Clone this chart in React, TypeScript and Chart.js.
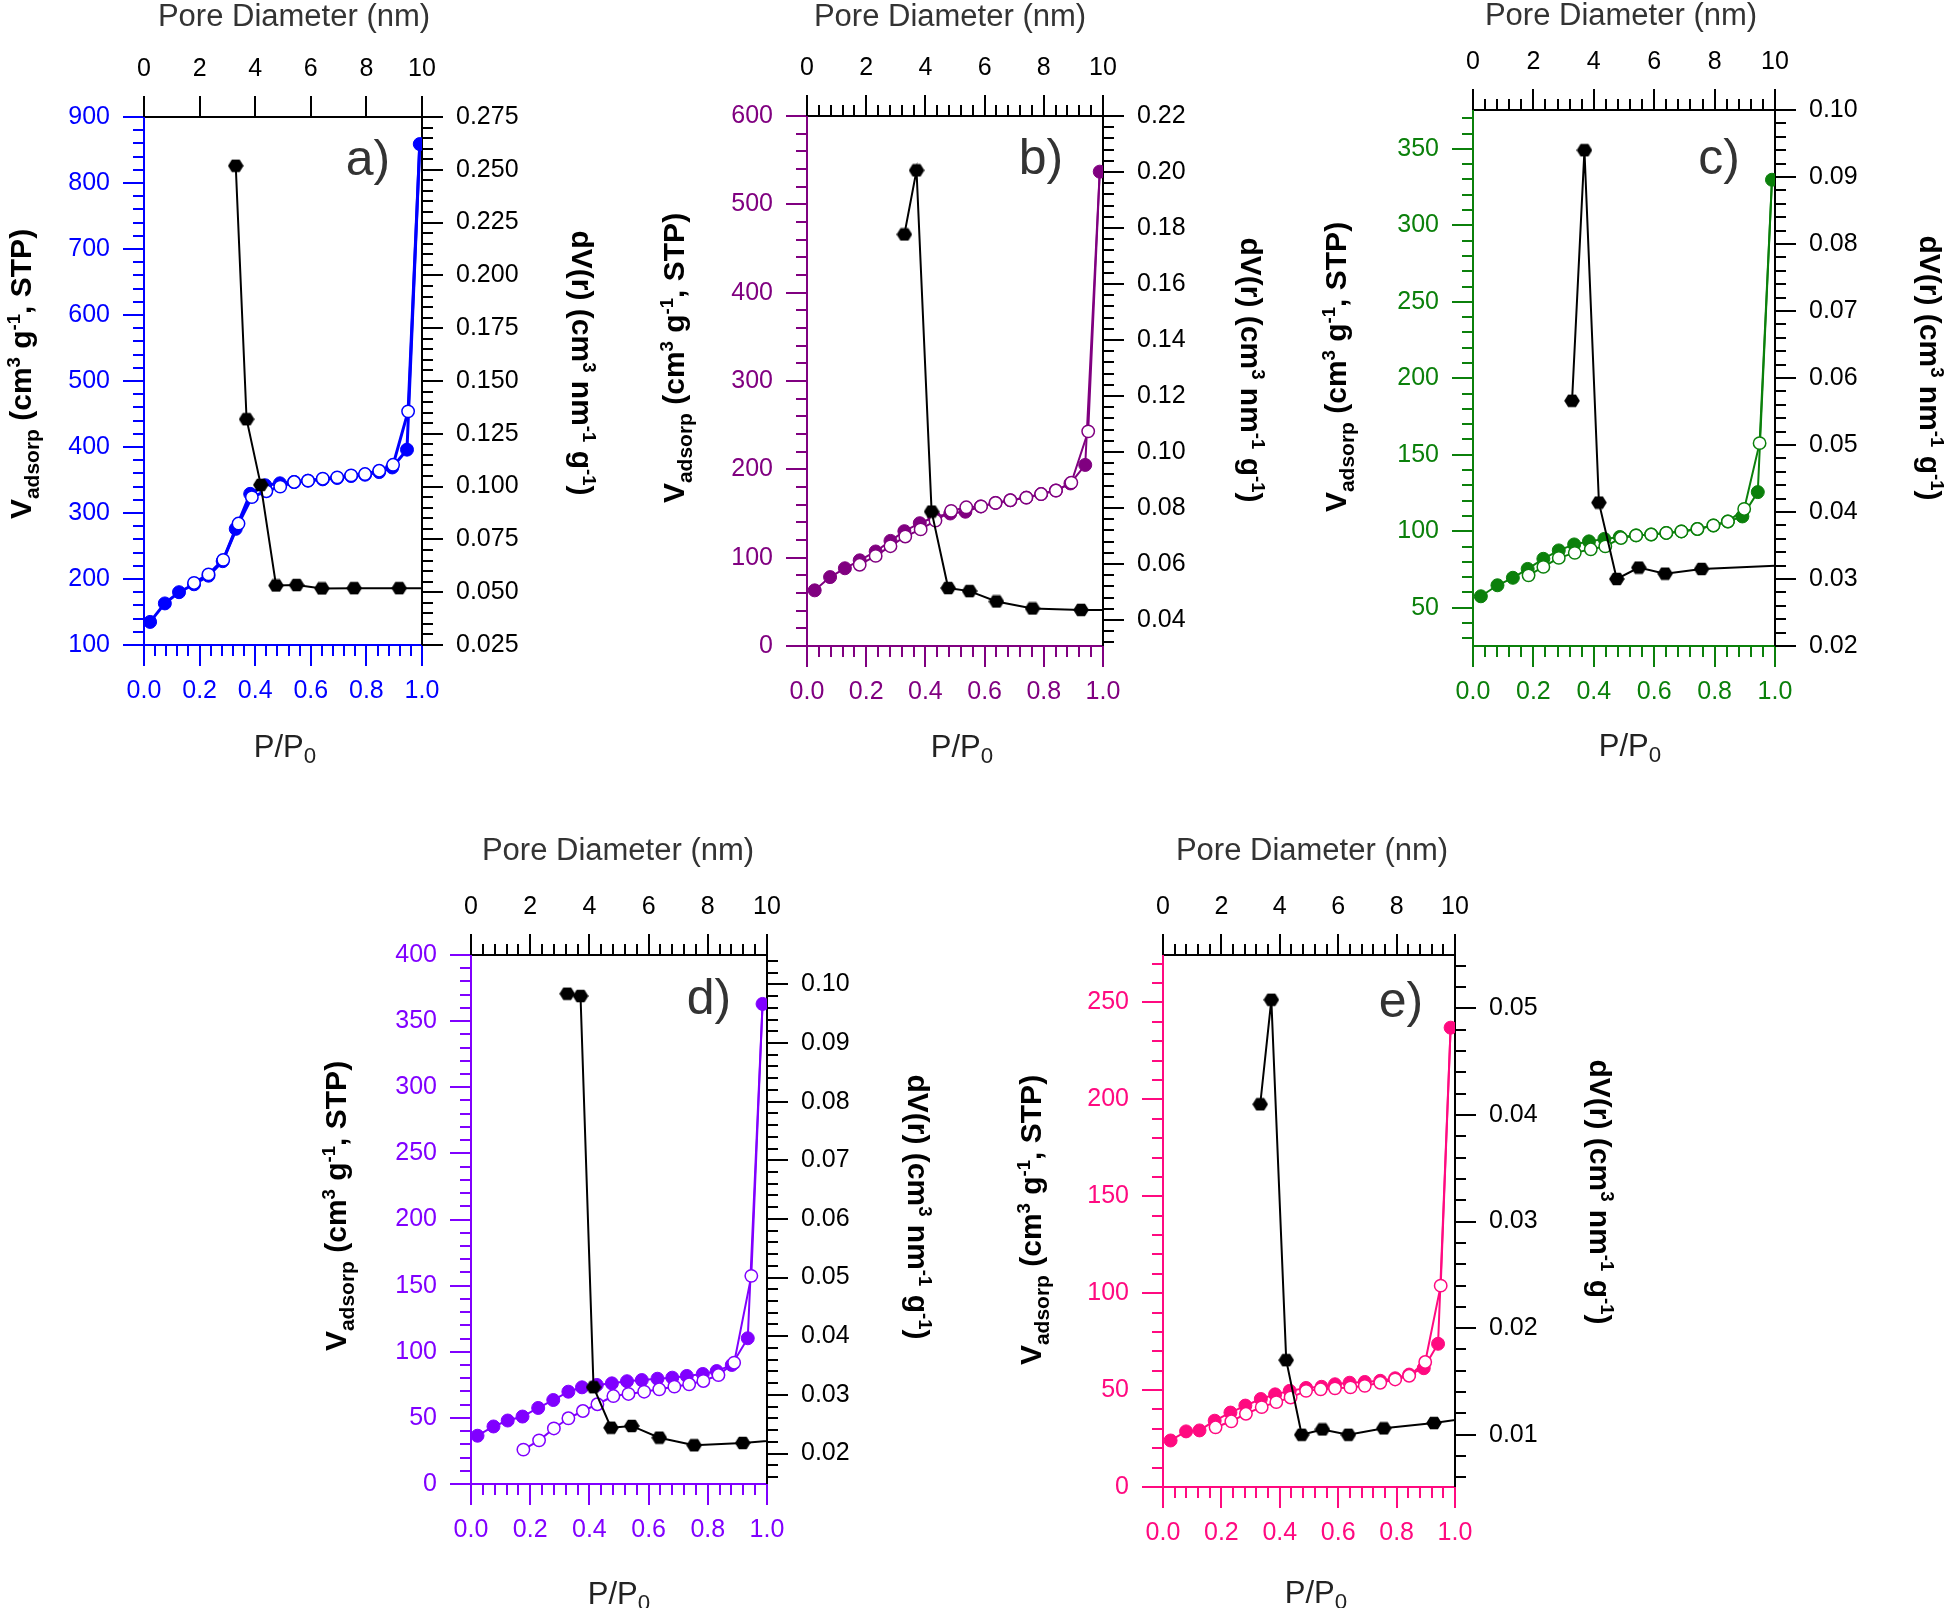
import React, { useEffect, useRef } from "react";
import { Chart, registerables } from "chart.js";

Chart.register(...registerables);

const FONT = '"Liberation Sans", Arial, Helvetica, sans-serif';
Chart.defaults.font.family = FONT;

// ---------- shared tick labels ----------
const P_TICKS = [0, 0.2, 0.4, 0.6, 0.8, 1.0];
const D_TICKS = [0, 2, 4, 6, 8, 10];

// ---------- a) ----------
const A_ADS_P = [0.022, 0.075, 0.126, 0.18, 0.232, 0.283, 0.33, 0.382, 0.436, 0.489, 0.54, 0.59, 0.643, 0.695, 0.745, 0.795, 0.846, 0.893, 0.946, 0.992];
const A_ADS_V = [135, 163, 180, 192, 205, 227, 276, 329, 342, 345, 347, 349, 351, 353, 356, 358, 362, 369, 396, 859];
const A_DES_P = [0.18, 0.232, 0.285, 0.34, 0.388, 0.44, 0.49, 0.54, 0.59, 0.643, 0.695, 0.745, 0.795, 0.846, 0.896, 0.95];
const A_DES_V = [194, 207, 229, 284, 324, 333, 340, 347, 349, 352, 354, 357, 359, 364, 373, 454];
const A_PSD_D = [3.3, 3.69, 4.2, 4.75, 5.49, 6.4, 7.56, 9.18, 11];
const A_PSD_DV = [0.2519, 0.1319, 0.1008, 0.0532, 0.0534, 0.0518, 0.0519, 0.0519, 0.0519];
const A_LEFT_TICKS = [100, 200, 300, 400, 500, 600, 700, 800, 900];
const A_RIGHT_TICKS = [0.025, 0.05, 0.075, 0.1, 0.125, 0.15, 0.175, 0.2, 0.225, 0.25, 0.275];

// ---------- b) ----------
const B_ADS_P = [0.026, 0.078, 0.128, 0.178, 0.232, 0.282, 0.329, 0.381, 0.43, 0.484, 0.535, 0.587, 0.637, 0.687, 0.741, 0.791, 0.841, 0.89, 0.94, 0.989];
const B_ADS_V = [63, 78, 88, 97, 107, 119, 130, 139, 146, 150, 152, 158, 162, 165, 168, 172, 176, 184, 205, 537];
const B_DES_P = [0.178, 0.232, 0.282, 0.332, 0.384, 0.434, 0.487, 0.538, 0.588, 0.637, 0.687, 0.741, 0.791, 0.841, 0.893, 0.95];
const B_DES_V = [92, 102, 113, 124, 132, 142, 153, 157, 158, 162, 165, 168, 172, 176, 185, 243];
const B_PSD_D = [3.29, 3.7, 4.21, 4.77, 5.49, 6.4, 7.62, 9.26, 11];
const B_PSD_DV = [0.1777, 0.2006, 0.0787, 0.0514, 0.0503, 0.0466, 0.0441, 0.0436, 0.0435];
const B_LEFT_TICKS = [0, 100, 200, 300, 400, 500, 600];
const B_RIGHT_TICKS = [0.04, 0.06, 0.08, 0.1, 0.12, 0.14, 0.16, 0.18, 0.2, 0.22];

// ---------- c) ----------
const C_ADS_P = [0.026, 0.081, 0.132, 0.181, 0.233, 0.284, 0.335, 0.384, 0.435, 0.486, 0.54, 0.59, 0.64, 0.69, 0.743, 0.796, 0.844, 0.892, 0.943, 0.99];
const C_ADS_V = [57.5, 64.7, 69.6, 75.4, 82, 87.5, 91.4, 93.4, 95, 96.3, 97.3, 97.9, 98.9, 99.9, 101.5, 103.8, 106.4, 109.7, 125.6, 329.8];
const C_DES_P = [0.184, 0.233, 0.284, 0.337, 0.39, 0.438, 0.49, 0.54, 0.59, 0.64, 0.69, 0.743, 0.796, 0.844, 0.898, 0.949];
const C_DES_V = [71.2, 76.7, 82.6, 85.9, 88.2, 90.1, 95.6, 97.3, 97.9, 98.9, 99.9, 101.5, 103.8, 106.4, 114.6, 157.6];
const C_PSD_D = [3.28, 3.69, 4.17, 4.76, 5.49, 6.36, 7.57, 11];
const C_PSD_DV = [0.0566, 0.094, 0.0414, 0.03, 0.0317, 0.0308, 0.0315, 0.0322];
const C_LEFT_TICKS = [50, 100, 150, 200, 250, 300, 350];
const C_RIGHT_TICKS = [0.02, 0.03, 0.04, 0.05, 0.06, 0.07, 0.08, 0.09, 0.1];

// ---------- d) ----------
const D_ADS_P = [0.022, 0.076, 0.124, 0.174, 0.227, 0.278, 0.329, 0.375, 0.425, 0.476, 0.527, 0.577, 0.63, 0.68, 0.729, 0.783, 0.83, 0.881, 0.935, 0.985];
const D_ADS_V = [36.5, 43.5, 48, 51, 57.5, 63.5, 69.8, 73.1, 74.9, 76.1, 77.7, 78.6, 79.6, 80.4, 81.7, 83.2, 85.4, 90, 110.2, 363];
const D_DES_P = [0.177, 0.23, 0.28, 0.329, 0.378, 0.427, 0.481, 0.532, 0.585, 0.636, 0.687, 0.737, 0.785, 0.836, 0.889, 0.947];
const D_DES_V = [26, 33, 42, 49.7, 55.2, 60.3, 66.5, 68.1, 69.8, 71.6, 73.6, 75.4, 77.9, 82.4, 91.7, 157.4];
const D_PSD_D = [3.25, 3.7, 4.14, 4.73, 5.43, 6.36, 7.54, 9.18, 11];
const D_PSD_DV = [0.0984, 0.098, 0.0313, 0.0244, 0.0247, 0.0227, 0.0214, 0.0218, 0.0225];
const D_LEFT_TICKS = [0, 50, 100, 150, 200, 250, 300, 350, 400];
const D_RIGHT_TICKS = [0.02, 0.03, 0.04, 0.05, 0.06, 0.07, 0.08, 0.09, 0.1];

// ---------- e) ----------
const E_ADS_P = [0.026, 0.079, 0.125, 0.177, 0.231, 0.282, 0.335, 0.384, 0.434, 0.49, 0.543, 0.589, 0.639, 0.691, 0.744, 0.795, 0.843, 0.893, 0.942, 0.985];
const E_ADS_V = [24, 28.7, 29.2, 34.2, 38.4, 42, 45.4, 47.8, 49.6, 51.1, 51.7, 53, 53.8, 54.2, 54.8, 56.1, 58, 61.3, 73.9, 237];
const E_DES_P = [0.18, 0.234, 0.284, 0.338, 0.388, 0.437, 0.49, 0.54, 0.589, 0.642, 0.691, 0.744, 0.795, 0.843, 0.898, 0.951];
const E_DES_V = [30.8, 33.9, 37.8, 41.2, 43.8, 46.2, 49.6, 50.4, 50.9, 51.4, 52.2, 53.8, 55.5, 57.4, 64.5, 103.9];
const E_PSD_D = [3.33, 3.71, 4.22, 4.75, 5.46, 6.35, 7.56, 9.28, 11];
const E_PSD_DV = [0.041, 0.0508, 0.017, 0.01, 0.0105, 0.01, 0.0106, 0.0111, 0.0118];
const E_LEFT_TICKS = [0, 50, 100, 150, 200, 250];
const E_RIGHT_TICKS = [0.01, 0.02, 0.03, 0.04, 0.05];

type XY = [number, number];
type PanelCfg = {
  letter: string;
  color: string;
  canvas: [number, number, number, number];
  box: [number, number, number, number];
  adsP: number[]; adsV: number[]; desP: number[]; desV: number[]; psdD: number[]; psdV: number[];
  yMin: number; yMax: number; y2Min: number; y2Max: number;
  leftTicks: number[]; rightTicks: number[]; rightDec: number;
  leftMinor: number; rightMinor: number; bottomMinor: number; topMinor: number;
  lineW: number;
  leftTitle: XY; rightTitle: XY; topTitle: XY; bottomTitle: XY; letterPos: XY;
};

const PANELS: PanelCfg[] = [
  {
    letter: "a)", color: "#0000ff", canvas: [0, 0, 650, 800], box: [144, 117, 422, 645],
    adsP: A_ADS_P, adsV: A_ADS_V, desP: A_DES_P, desV: A_DES_V, psdD: A_PSD_D, psdV: A_PSD_DV,
    yMin: 100, yMax: 900, y2Min: 0.025, y2Max: 0.275,
    leftTicks: A_LEFT_TICKS, rightTicks: A_RIGHT_TICKS, rightDec: 3,
    leftMinor: 20, rightMinor: 0.005, bottomMinor: 0.04, topMinor: 0, lineW: 3,
    leftTitle: [31, 374], rightTitle: [572, 363], topTitle: [294, 26], bottomTitle: [285, 757], letterPos: [368, 161],
  },
  {
    letter: "b)", color: "#800080", canvas: [650, 0, 1300, 800], box: [807, 116, 1103, 646],
    adsP: B_ADS_P, adsV: B_ADS_V, desP: B_DES_P, desV: B_DES_V, psdD: B_PSD_D, psdV: B_PSD_DV,
    yMin: 0, yMax: 600, y2Min: 0.0307, y2Max: 0.22,
    leftTicks: B_LEFT_TICKS, rightTicks: B_RIGHT_TICKS, rightDec: 2,
    leftMinor: 20, rightMinor: 0.004, bottomMinor: 0.04, topMinor: 0.4, lineW: 2,
    leftTitle: [684, 358], rightTitle: [1241, 370], topTitle: [950, 26], bottomTitle: [962, 757], letterPos: [1041, 160],
  },
  {
    letter: "c)", color: "#0b800b", canvas: [1300, 0, 1946, 800], box: [1473, 110, 1775, 646],
    adsP: C_ADS_P, adsV: C_ADS_V, desP: C_DES_P, desV: C_DES_V, psdD: C_PSD_D, psdV: C_PSD_DV,
    yMin: 25, yMax: 375.4, y2Min: 0.02, y2Max: 0.1,
    leftTicks: C_LEFT_TICKS, rightTicks: C_RIGHT_TICKS, rightDec: 2,
    leftMinor: 10, rightMinor: 0.002, bottomMinor: 0.04, topMinor: 0.4, lineW: 2,
    leftTitle: [1346, 367], rightTitle: [1920, 368], topTitle: [1621, 25], bottomTitle: [1630, 756], letterPos: [1719, 160],
  },
  {
    letter: "d)", color: "#8000ff", canvas: [280, 800, 980, 1608], box: [471, 955, 767, 1484],
    adsP: D_ADS_P, adsV: D_ADS_V, desP: D_DES_P, desV: D_DES_V, psdD: D_PSD_D, psdV: D_PSD_DV,
    yMin: 0, yMax: 400, y2Min: 0.0148, y2Max: 0.105,
    leftTicks: D_LEFT_TICKS, rightTicks: D_RIGHT_TICKS, rightDec: 2,
    leftMinor: 10, rightMinor: 0.002, bottomMinor: 0.04, topMinor: 0.4, lineW: 2,
    leftTitle: [346, 1206], rightTitle: [908, 1207], topTitle: [618, 860], bottomTitle: [619, 1604], letterPos: [709, 1000],
  },
  {
    letter: "e)", color: "#ff0a80", canvas: [980, 800, 1680, 1608], box: [1163, 955, 1455, 1487],
    adsP: E_ADS_P, adsV: E_ADS_V, desP: E_DES_P, desV: E_DES_V, psdD: E_PSD_D, psdV: E_PSD_DV,
    yMin: 0, yMax: 274.5, y2Min: 0.0051, y2Max: 0.055,
    leftTicks: E_LEFT_TICKS, rightTicks: E_RIGHT_TICKS, rightDec: 2,
    leftMinor: 10, rightMinor: 0.002, bottomMinor: 0.04, topMinor: 0.4, lineW: 2,
    leftTitle: [1041, 1220], rightTitle: [1590, 1192], topTitle: [1312, 860], bottomTitle: [1316, 1603], letterPos: [1401, 1003],
  },
];

function minorTicks(min: number, max: number, step: number, majors: number[]): number[] {
  const out: number[] = [];
  if (!step) return out;
  const start = Math.ceil(min / step - 1e-6);
  for (let k = start; k * step <= max + step * 1e-6; k++) {
    const v = k * step;
    if (!majors.some((m) => Math.abs(m - v) < step * 1e-3)) out.push(v);
  }
  return out;
}

function makeHex(): HTMLCanvasElement {
  const c = document.createElement("canvas");
  c.width = 16;
  c.height = 14;
  const g = c.getContext("2d")!;
  const r = 7.8;
  g.beginPath();
  for (let i = 0; i < 6; i++) {
    const a = (Math.PI / 3) * i;
    const px = 8 + r * Math.cos(a);
    const py = 7 + r * Math.sin(a) * 0.93;
    if (i === 0) g.moveTo(px, py);
    else g.lineTo(px, py);
  }
  g.closePath();
  g.fillStyle = "#000";
  g.fill();
  return c;
}

type Seg = { t: string; k?: "sub" | "sup" };

function drawRich(ctx: CanvasRenderingContext2D, segs: Seg[], x: number, y: number, angle: number, size: number, bold: boolean, color: string, subScale: number, supScale: number, subShift: number) {
  const font = (s: number) => `${bold ? "bold " : ""}${s}px ${FONT}`;
  const sz = (s: Seg) => (s.k === "sub" ? size * subScale : s.k === "sup" ? size * supScale : size);
  const widths: number[] = [];
  let total = 0;
  for (const s of segs) {
    ctx.font = font(sz(s));
    const w = ctx.measureText(s.t).width;
    widths.push(w);
    total += w;
  }
  ctx.save();
  ctx.translate(x, y);
  ctx.rotate(angle);
  ctx.fillStyle = color;
  ctx.textAlign = "left";
  ctx.textBaseline = "alphabetic";
  let cx = -total / 2;
  segs.forEach((s, i) => {
    ctx.font = font(sz(s));
    const dy = s.k === "sub" ? size * subShift : s.k === "sup" ? -size * 0.36 : 0;
    ctx.fillText(s.t, cx, dy);
    cx += widths[i];
  });
  ctx.restore();
}

const LEFT_TITLE: Seg[] = [{ t: "V" }, { t: "adsorp", k: "sub" }, { t: " (cm" }, { t: "3", k: "sup" }, { t: " g" }, { t: "-1", k: "sup" }, { t: ", STP)" }];
const RIGHT_TITLE: Seg[] = [{ t: "dV(r) (cm" }, { t: "3", k: "sup" }, { t: " nm" }, { t: "-1", k: "sup" }, { t: " g" }, { t: "-1", k: "sup" }, { t: ")" }];
const BOTTOM_TITLE: Seg[] = [{ t: "P/P" }, { t: "0", k: "sub" }];
const TOP_TITLE = "Pore Diameter (nm)";

function tickLines(ctx: CanvasRenderingContext2D, scale: any, values: number[], len: number, side: string, area: any, color: string) {
  ctx.strokeStyle = color;
  ctx.lineWidth = 2;
  ctx.beginPath();
  for (const v of values) {
    const p = Math.round(scale.getPixelForValue(v));
    if (side === "left") { ctx.moveTo(area.left, p); ctx.lineTo(area.left - len, p); }
    else if (side === "right") { ctx.moveTo(area.right, p); ctx.lineTo(area.right + len, p); }
    else if (side === "bottom") { ctx.moveTo(p, area.bottom); ctx.lineTo(p, area.bottom + len); }
    else { ctx.moveTo(p, area.top); ctx.lineTo(p, area.top - len); }
  }
  ctx.stroke();
}

function Panel({ p }: { p: PanelCfg }) {
  const ref = useRef<HTMLCanvasElement>(null);
  const [cx0, cy0, cx1, cy1] = p.canvas;
  const [L, T, R, B] = p.box;
  useEffect(() => {
    const canvas = ref.current!;
    const hex = makeHex();
    const ads = p.adsP.map((x, i) => ({ x, y: p.adsV[i] }));
    const des = [...p.desP.map((x, i) => ({ x, y: p.desV[i] })), ads[ads.length - 1]];
    const desRadius = des.map((_, i) => (i === des.length - 1 ? 0 : 6.2));
    const psd = p.psdD.map((x, i) => ({ x, y: p.psdV[i] }));
    const tickFont = { family: FONT, size: 25 };

    const deco = {
      id: "deco",
      afterDraw(chart: any) {
        const ctx: CanvasRenderingContext2D = chart.ctx;
        const area = chart.chartArea;
        const s = chart.scales;
        ctx.save();
        tickLines(ctx, s.y, p.leftTicks, 21, "left", area, p.color);
        tickLines(ctx, s.y, minorTicks(p.yMin, p.yMax, p.leftMinor, p.leftTicks), 11, "left", area, p.color);
        tickLines(ctx, s.x, P_TICKS, 21, "bottom", area, p.color);
        tickLines(ctx, s.x, minorTicks(0, 1, p.bottomMinor, P_TICKS), 11, "bottom", area, p.color);
        tickLines(ctx, s.x2, D_TICKS, 21, "top", area, "#000");
        tickLines(ctx, s.x2, minorTicks(0, 10, p.topMinor, D_TICKS), 11, "top", area, "#000");
        tickLines(ctx, s.y2, p.rightTicks, 21, "right", area, "#000");
        tickLines(ctx, s.y2, minorTicks(p.y2Min, p.y2Max, p.rightMinor, p.rightTicks), 11, "right", area, "#000");
        ctx.fillStyle = "#333";
        ctx.font = `31px ${FONT}`;
        ctx.textAlign = "center";
        ctx.textBaseline = "alphabetic";
        ctx.fillText(TOP_TITLE, p.topTitle[0] - cx0, p.topTitle[1] - cy0);
        drawRich(ctx, BOTTOM_TITLE, p.bottomTitle[0] - cx0, p.bottomTitle[1] - cy0, 0, 31, false, "#222", 0.72, 0.65, 0.2);
        drawRich(ctx, LEFT_TITLE, p.leftTitle[0] - cx0, p.leftTitle[1] - cy0, -Math.PI / 2, 30, true, "#000", 0.7, 0.62, 0.26);
        drawRich(ctx, RIGHT_TITLE, p.rightTitle[0] - cx0, p.rightTitle[1] - cy0, Math.PI / 2, 30, true, "#000", 0.7, 0.62, 0.26);
        ctx.fillStyle = "#333";
        ctx.font = `50px ${FONT}`;
        ctx.textAlign = "center";
        ctx.textBaseline = "middle";
        ctx.fillText(p.letter, p.letterPos[0] - cx0, p.letterPos[1] - cy0);
        ctx.restore();
      },
    };

    const chart = new Chart(canvas, {
      type: "line",
      data: {
        datasets: [
          {
            label: "PSD", data: psd, xAxisID: "x2", yAxisID: "y2", order: 0,
            borderColor: "#000", borderWidth: 2, pointStyle: hex as any, pointRadius: 7,
            pointBackgroundColor: "#000", pointBorderColor: "#000", tension: 0, fill: false,
          },
          {
            label: "Desorption", data: des, xAxisID: "x", yAxisID: "y", order: 1,
            borderColor: p.color, borderWidth: p.lineW, pointStyle: "circle", pointRadius: desRadius,
            pointBackgroundColor: "#ffffff", pointBorderColor: p.color, pointBorderWidth: 1.5, tension: 0, fill: false,
          },
          {
            label: "Adsorption", data: ads, xAxisID: "x", yAxisID: "y", order: 2,
            borderColor: p.color, borderWidth: p.lineW, pointStyle: "circle", pointRadius: 6.5,
            pointBackgroundColor: p.color, pointBorderColor: p.color, pointBorderWidth: 1, tension: 0, fill: false,
          },
        ] as any,
      },
      options: {
        responsive: false,
        devicePixelRatio: 1,
        animation: false,
        events: [],
        layout: { padding: 0 },
        plugins: { legend: { display: false }, tooltip: { enabled: false }, title: { display: false } },
        scales: {
          x: {
            type: "linear", position: "bottom", min: 0, max: 1,
            afterBuildTicks: (sc: any) => { sc.ticks = P_TICKS.map((v) => ({ value: v })); },
            afterFit: (sc: any) => { sc.height = cy1 - B; },
            ticks: { callback: (v: any) => Number(v).toFixed(1), color: p.color, font: tickFont, padding: 31, autoSkip: false, maxRotation: 0, minRotation: 0 },
            grid: { display: false, drawTicks: false },
            border: { display: true, color: p.color, width: 2 },
          },
          x2: {
            type: "linear", position: "top", min: 0, max: 10,
            afterBuildTicks: (sc: any) => { sc.ticks = D_TICKS.map((v) => ({ value: v })); },
            afterFit: (sc: any) => { sc.height = T - cy0; },
            ticks: { callback: (v: any) => String(v), color: "#000", font: tickFont, padding: 33, autoSkip: false, maxRotation: 0, minRotation: 0 },
            grid: { display: false, drawTicks: false },
            border: { display: true, color: "#000", width: 2 },
          },
          y: {
            type: "linear", position: "left", min: p.yMin, max: p.yMax,
            afterBuildTicks: (sc: any) => { sc.ticks = p.leftTicks.map((v) => ({ value: v })); },
            afterFit: (sc: any) => { sc.width = L - cx0; },
            ticks: { callback: (v: any) => String(v), color: p.color, font: tickFont, padding: 34, autoSkip: false },
            grid: { display: false, drawTicks: false },
            border: { display: true, color: p.color, width: 2 },
          },
          y2: {
            type: "linear", position: "right", min: p.y2Min, max: p.y2Max,
            afterBuildTicks: (sc: any) => { sc.ticks = p.rightTicks.map((v) => ({ value: v })); },
            afterFit: (sc: any) => { sc.width = cx1 - R; },
            ticks: { callback: (v: any) => Number(v).toFixed(p.rightDec), color: "#000", font: tickFont, padding: 34, autoSkip: false },
            grid: { display: false, drawTicks: false },
            border: { display: true, color: "#000", width: 2 },
          },
        } as any,
      },
      plugins: [deco as any],
    });
    return () => chart.destroy();
  }, []);
  const w = cx1 - cx0;
  const h = cy1 - cy0;
  return (
    <canvas
      ref={ref}
      width={w}
      height={h}
      style={{ position: "absolute", left: cx0, top: cy0, width: w, height: h }}
    />
  );
}

export default function App() {
  return (
    <div style={{ position: "absolute", left: 0, top: 0, width: 1946, height: 1608, background: "#ffffff", overflow: "hidden" }}>
      {PANELS.map((p) => (
        <Panel key={p.letter} p={p} />
      ))}
    </div>
  );
}
